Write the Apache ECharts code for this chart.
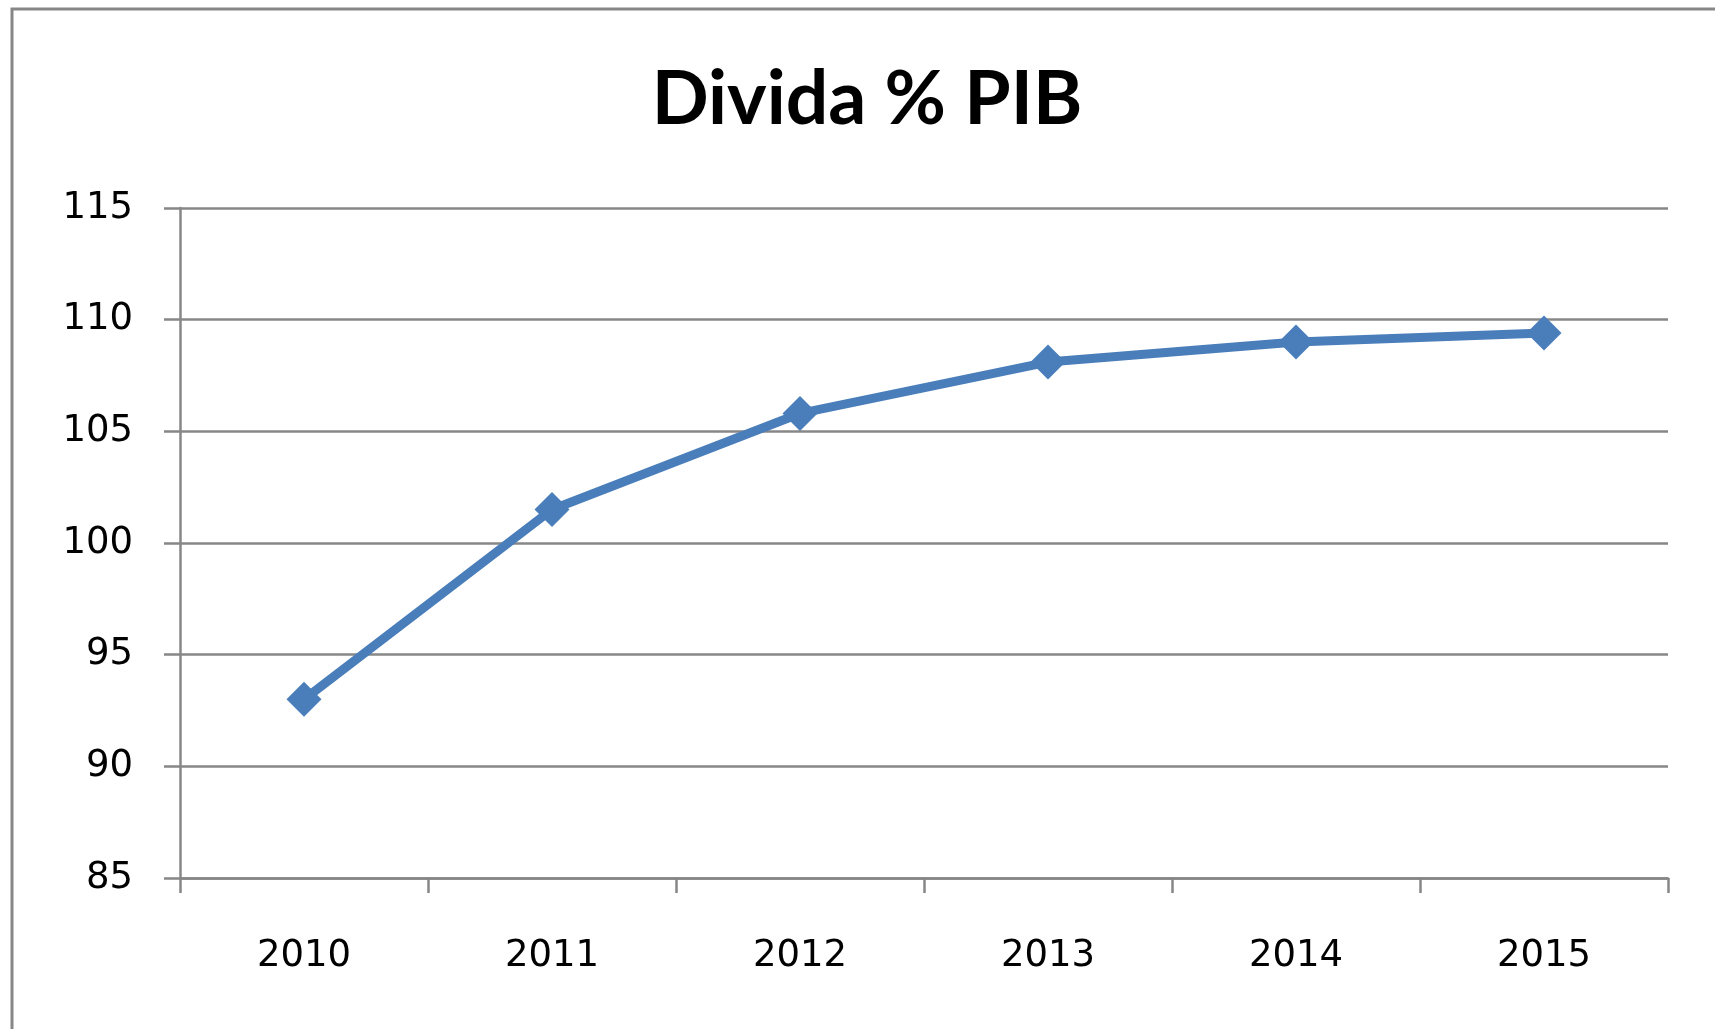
<!DOCTYPE html>
<html>
<head>
<meta charset="utf-8">
<title>Divida % PIB</title>
<script src="https://cdn.jsdelivr.net/npm/echarts@6/dist/echarts.min.js"></script>
<style>
  html, body { margin: 0; padding: 0; background: #fff; }
  #chart { width: 1715px; height: 1029px; }
</style>
</head>
<body>
<div id="chart"></div>
<script>
// data
const years = ['2010', '2011', '2012', '2013', '2014', '2015']
const debtPct = [93.0, 101.5, 105.8, 108.1, 109.0, 109.4]
const yMin = 85
const yMax = 115
const yStep = 5

const gray = '#878787'
const blue = '#4a7ebb'
const labelFont = 'DejaVu Sans'

const chart = echarts.init(document.getElementById('chart'))
chart.setOption({
  animation: false,
  backgroundColor: '#fff',
  // outer frame, only left and top edges are visible in the picture
  graphic: [
    {
      type: 'rect',
      shape: { x: 12, y: 9, width: 1800, height: 1100 },
      style: { fill: 'none', stroke: gray, lineWidth: 3 },
      silent: true
    }
  ],
  title: {
    text: 'Divida % PIB',
    left: 867,
    top: 62,
    textAlign: 'center',
    padding: 0,
    textStyle: {
      fontFamily: 'Lato',
      fontWeight: 'bold',
      fontSize: 75,
      lineHeight: 75,
      color: '#000'
    }
  },
  grid: {
    left: 180,
    right: 47,
    top: 208,
    bottom: 151,
    containLabel: false
  },
  xAxis: {
    type: 'category',
    data: years,
    boundaryGap: true,
    axisLine: { lineStyle: { color: gray, width: 2.5 } },
    axisTick: {
      show: true,
      alignWithLabel: false,
      length: 15,
      lineStyle: { color: gray, width: 2.5 }
    },
    axisLabel: {
      margin: 60,
      fontFamily: labelFont,
      fontSize: 37,
      lineHeight: 37,
      color: '#000'
    },
    splitLine: { show: false }
  },
  yAxis: {
    type: 'value',
    min: yMin,
    max: yMax,
    interval: yStep,
    axisLine: { show: true, lineStyle: { color: gray, width: 2.5 } },
    axisTick: {
      show: true,
      length: 16,
      lineStyle: { color: gray, width: 2.5 }
    },
    axisLabel: {
      margin: 47,
      fontFamily: labelFont,
      fontSize: 37,
      color: '#000'
    },
    splitLine: { show: true, lineStyle: { color: gray, width: 2.5 } }
  },
  series: [
    {
      name: 'Divida % PIB',
      type: 'line',
      data: debtPct,
      symbol: 'diamond',
      symbolSize: 35,
      showSymbol: true,
      lineStyle: { color: blue, width: 9, join: 'round', cap: 'round' },
      itemStyle: { color: blue, borderWidth: 0 }
    }
  ]
})
</script>
</body>
</html>
